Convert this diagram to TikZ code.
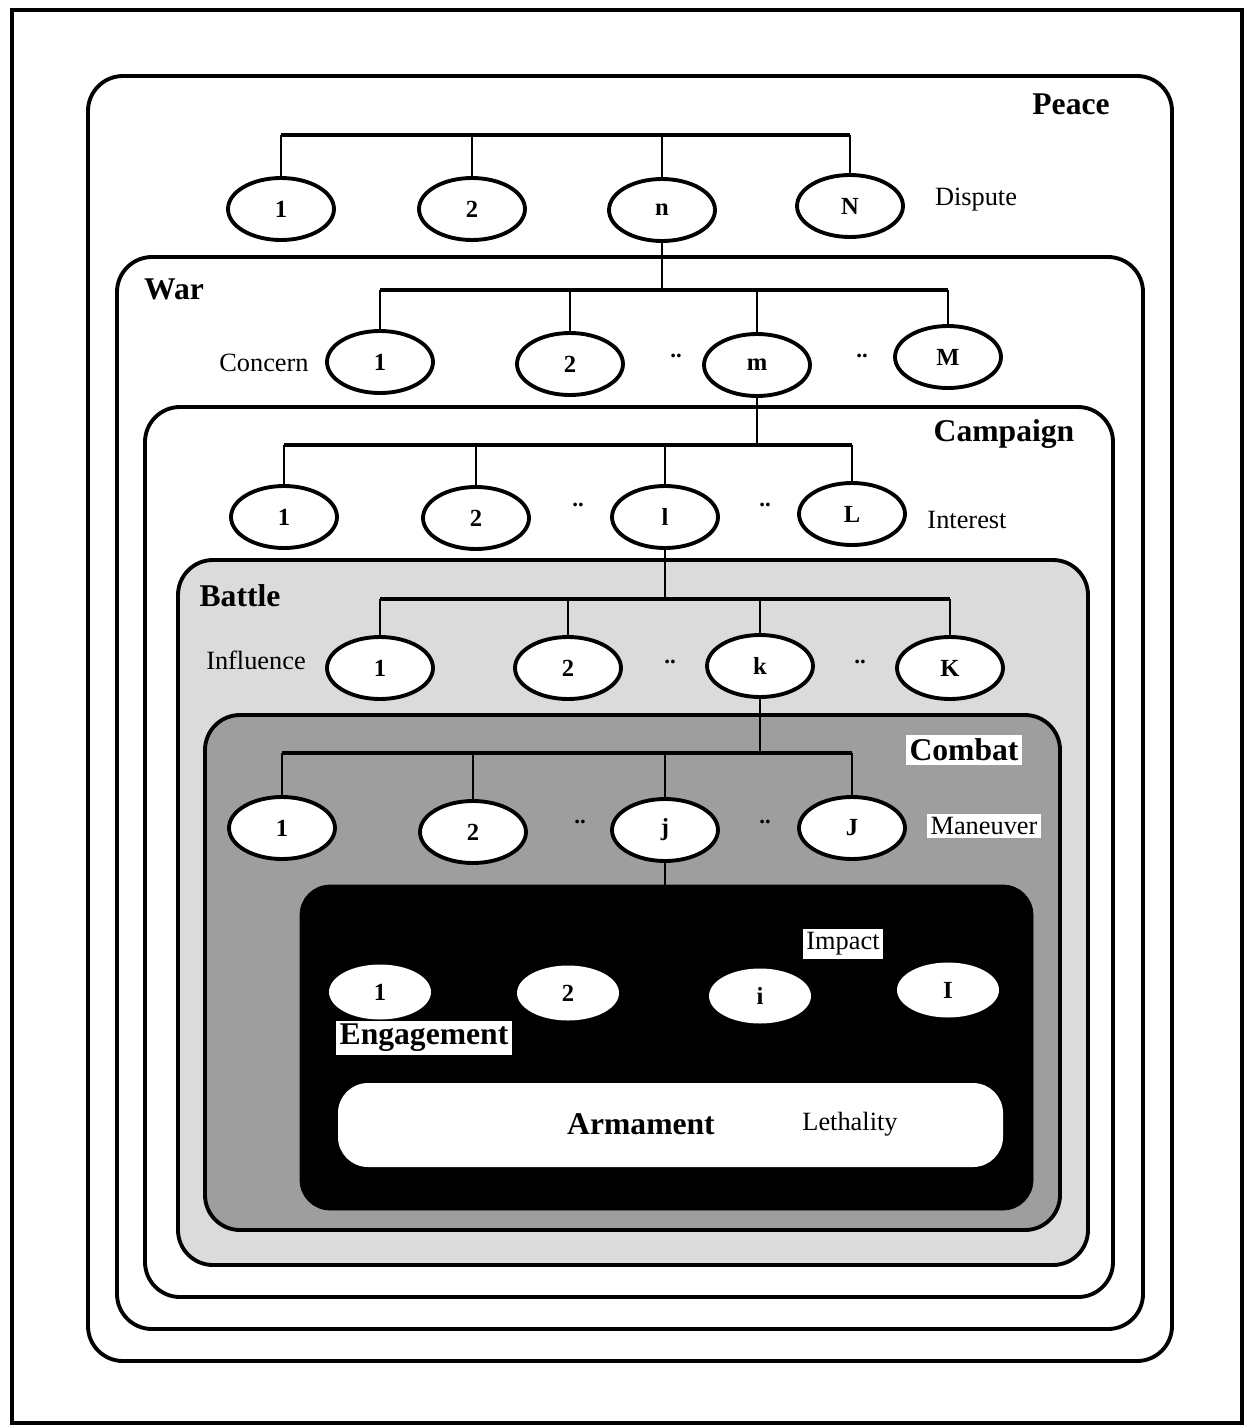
\documentclass[tikz,border=0pt]{standalone}
\usepackage{fontspec}
\setmainfont{Liberation Serif}
\usetikzlibrary{shapes.geometric}

\begin{document}
\begin{tikzpicture}[x=0.02cm, y=-0.02cm,
  frame/.style={line width=2.2pt, rounded corners=0.7cm},
  oval/.style={ellipse, draw, line width=2.2pt, fill=white, minimum width=2.12cm,
    minimum height=1.24cm, inner sep=0pt, font=\fontsize{14}{14}\selectfont\bfseries},
  lowoval/.style={ellipse, fill=white, minimum width=2.04cm, minimum height=1.1cm,
    inner sep=0pt, font=\fontsize{14}{14}\selectfont\bfseries},
  bar/.style={line width=2.2pt},
  stem/.style={line width=1.4pt},
  level/.style={font=\fontsize{18}{18}\selectfont\bfseries, inner sep=2pt},
  tag/.style={font=\fontsize{15}{15}\selectfont, inner sep=2pt},
  dots/.style={font=\fontsize{13}{13}\selectfont\bfseries, inner sep=1pt},
  ]
  \useasboundingbox (0,0) rectangle (1246,1427);
  % Outer frame
  \draw[line width=1.8pt] (12,10) rectangle (1242,1423);
  % Nested levels
  \draw[frame, fill=white] (88,76) rectangle (1172,1361);
  \draw[frame] (117,257) rectangle (1143,1329);
  \draw[frame] (145,407) rectangle (1113,1297);
  \draw[frame, fill=black!14] (178,560) rectangle (1088,1265);
  \draw[frame, fill=black!38] (205,715) rectangle (1060,1230);
  \draw[rounded corners=0.6cm, fill=black] (300,885) rectangle (1033,1210);
  \draw[rounded corners=0.6cm, fill=white, draw=none] (338,1083) rectangle (1003,1167);
  \coordinate (etop) at (665,885);

  % Peace: disputes
  \node[level] (peace) at (1071,104) {Peace};
  \node[oval] (p1) at (281,209) {1};
  \node[oval] (p2) at (472,209) {2};
  \node[oval] (pn) at (662,210) {n};
  \node[oval] (pN) at (850,206) {N};
  \node[tag] (dispute) at (976,200) {Dispute};
  \coordinate (pbar) at (0,135);

  % War: concerns
  \node[level] (war) at (174,289) {War};
  \node[oval] (w1) at (380,362) {1};
  \node[oval] (w2) at (570,364) {2};
  \node[oval] (wm) at (757,365) {m};
  \node[oval] (wM) at (948,357) {M};
  \node[tag] (concern) at (264,363) {Concern};
  \node[dots] (wd1) at (676,356) {..};
  \node[dots] (wd2) at (862,356) {..};
  \coordinate (wbar) at (0,290);

  % Campaign: interests
  \node[level] (campaign) at (1004,434) {Campaign};
  \node[oval] (c1) at (284,517) {1};
  \node[oval] (c2) at (476,518) {2};
  \node[oval] (cl) at (665,517) {l};
  \node[oval] (cL) at (852,514) {L};
  \node[tag] (interest) at (967,520) {Interest};
  \node[dots] (cd1) at (578,505) {..};
  \node[dots] (cd2) at (765,505) {..};
  \coordinate (cbar) at (0,445);

  % Battle: influences
  \node[level] (battle) at (240,596) {Battle};
  \node[oval] (b1) at (380,668) {1};
  \node[oval] (b2) at (568,668) {2};
  \node[oval] (bk) at (760,666) {k};
  \node[oval] (bK) at (950,668) {K};
  \node[tag] (influence) at (256,660) {Influence};
  \node[dots] (bd1) at (670,662) {..};
  \node[dots] (bd2) at (860,662) {..};
  \coordinate (bbar) at (0,599);

  % Combat: maneuvers
  \node[level, fill=white] (combat) at (964,750) {Combat};
  \node[oval] (m1) at (282,828) {1};
  \node[oval] (m2) at (473,832) {2};
  \node[oval] (mj) at (665,830) {j};
  \node[oval] (mJ) at (852,828) {J};
  \node[tag, fill=white] (maneuver) at (984,826) {Maneuver};
  \node[dots] (md1) at (580,822) {..};
  \node[dots] (md2) at (765,822) {..};
  \coordinate (mbar) at (0,753);

  % Engagement: impacts
  \node[tag, fill=white] (impact) at (843,944) {Impact};
  \node[lowoval] (e1) at (380,992) {1};
  \node[lowoval] (e2) at (568,993) {2};
  \node[lowoval] (ei) at (760,996) {i};
  \node[lowoval] (eI) at (948,990) {I};
  \node[level, fill=white] (engagement) at (424,1038) {Engagement};
  \node[level] (armament) at (641,1124) {Armament};
  \node[tag] (lethality) at (850,1124) {Lethality};

  % Tree links
  \draw[bar] (p1.north |- pbar) -- (pN.north |- pbar);
  \foreach \n in {p1,p2,pn,pN} \draw[stem] (\n.north) -- (\n.north |- pbar);
  \draw[stem] (pn.south) -- (pn.south |- wbar);
  \draw[bar] (w1.north |- wbar) -- (wM.north |- wbar);
  \foreach \n in {w1,w2,wm,wM} \draw[stem] (\n.north) -- (\n.north |- wbar);
  \draw[stem] (wm.south) -- (wm.south |- cbar);
  \draw[bar] (c1.north |- cbar) -- (cL.north |- cbar);
  \foreach \n in {c1,c2,cl,cL} \draw[stem] (\n.north) -- (\n.north |- cbar);
  \draw[stem] (cl.south) -- (cl.south |- bbar);
  \draw[bar] (b1.north |- bbar) -- (bK.north |- bbar);
  \foreach \n in {b1,b2,bk,bK} \draw[stem] (\n.north) -- (\n.north |- bbar);
  \draw[stem] (bk.south) -- (bk.south |- mbar);
  \draw[bar] (m1.north |- mbar) -- (mJ.north |- mbar);
  \foreach \n in {m1,m2,mj,mJ} \draw[stem] (\n.north) -- (\n.north |- mbar);
  \draw[stem] (mj.south) -- (etop);
\end{tikzpicture}
\end{document}
